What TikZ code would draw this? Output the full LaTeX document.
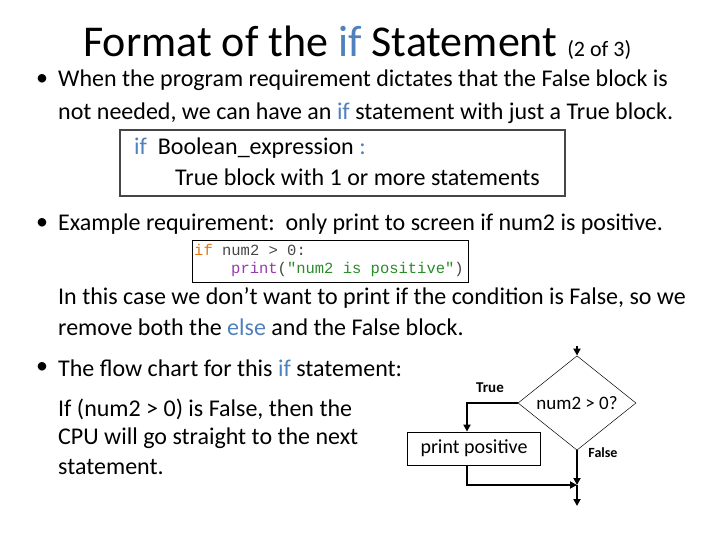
\documentclass[tikz,border=0pt]{standalone}
\usepackage{fontspec}
\setmainfont{Carlito}
\newfontfamily\codefont{Liberation Mono}
\usetikzlibrary{shapes.geometric,arrows.meta}
\definecolor{kw}{RGB}{79,129,189}
\definecolor{corange}{RGB}{230,120,20}
\definecolor{cpurple}{RGB}{150,60,170}
\definecolor{cgreen}{RGB}{40,140,40}
\definecolor{cgrey}{RGB}{70,70,70}
\tikzset{txt/.style={anchor=west,inner sep=0pt,font=\fontsize{24}{28}\selectfont},
flow/.style={line width=2pt,-{Triangle[length=7pt,width=7pt]}},
fl/.style={line width=2pt}}
\newcommand{\kwd}[1]{\textcolor{kw}{#1}}
\begin{document}
\begin{tikzpicture}[x=1pt,y=-1pt]
\useasboundingbox (0,0) rectangle (720,540);
\node[anchor=base west,inner sep=0pt,font=\fontsize{44}{48}\selectfont] (title) at (83,57) {Format of the \kwd{if} Statement {\fontsize{22}{26}\selectfont(2 of 3)}};
\node[txt] (b1) at (36,80) {•};
\node[txt] (l1) at (58,80) {When the program requirement dictates that the False block is};
\node[txt] (l2) at (58,113) {not needed, we can have an \kwd{if} statement with just a True block.};
\draw[line width=1.5pt,cgrey] (120,130) rectangle (565,196);
\node[txt] (f1) at (134,148) {\kwd{if}\ \ Boolean\_expression \kwd{:}};
\node[txt] (f2) at (175,177) {True block with 1 or more statements};
\node[txt] (b2) at (36,224) {•};
\node[txt] (l3) at (58,224) {Example requirement:\ \ only print to screen if num2 is positive.};
\draw[line width=1pt] (192,240) rectangle (468,282);
\node[anchor=west,inner sep=0pt,font=\codefont\fontsize{15.5}{18}\selectfont] (c1) at (194,250) {\textcolor{corange}{if} \textcolor{cgrey}{num2 > 0:}};
\node[anchor=west,inner sep=0pt,font=\codefont\fontsize{15.5}{18}\selectfont] (c2) at (231,269) {\textcolor{cpurple}{print}\textcolor{cgrey}{(}\textcolor{cgreen}{"num2 is positive"}\textcolor{cgrey}{)}};
\node[txt] (l4) at (58,298) {In this case we don’t want to print if the condition is False, so we};
\node[txt] (l5) at (58,327) {remove both the \kwd{else} and the False block.};
\node[txt] (b3) at (36,368) {•};
\node[txt] (l6) at (58,368) {The flow chart for this \kwd{if} statement:};
\node[txt] (p1) at (58,409) {If (num2 > 0) is False, then the};
\node[txt] (p2) at (58,438) {CPU will go straight to the next};
\node[txt] (p3) at (58,467) {statement.};
% flowchart
\coordinate (top) at (577,346);
\node[diamond,draw,line width=0.5pt,minimum width=118pt,minimum height=70pt,inner sep=0pt,font=\fontsize{19}{22}\selectfont] (d) at (577,403) {num2 > 0?};
\node[draw,line width=0.8pt,minimum width=133pt,minimum height=33pt,font=\fontsize{20}{24}\selectfont] (p) at (474,448.5) {print positive};
\coordinate (j) at (577,485);
\coordinate (bot) at (577,506);
\node[font=\bfseries\fontsize{15}{17}\selectfont] (t) at (490,388) {True};
\node[font=\bfseries\fontsize{14}{16}\selectfont] (fa) at (603,453) {False};
\draw[flow] (top) -- (d.north);
\draw[flow] (d.west) -| (p.north -| 467,0);
\draw[flow] (d.south) -- (j);
\draw[fl] (j) -- (577,489);
\draw[flow] (577,487) -- (bot);
\draw[flow] (p.south -| 467,0) |- (j);
\end{tikzpicture}
\end{document}
